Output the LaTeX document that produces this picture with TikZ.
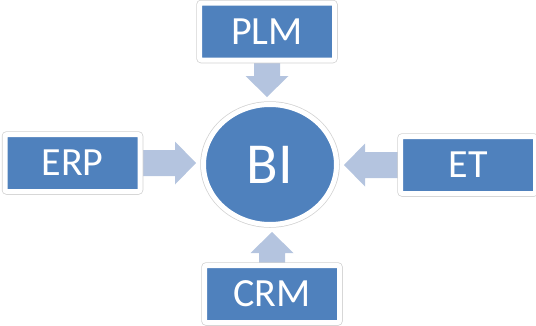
\documentclass[tikz,border=0pt]{standalone}
\usepackage{fontspec}
\setmainfont{Carlito}
\usetikzlibrary{calc,shapes.geometric}

\definecolor{smartblue}{HTML}{4F81BD}
\definecolor{flowblue}{HTML}{B4C4DF}
\definecolor{rimgray}{HTML}{D2D2D2}

\pgfdeclarelayer{background}
\pgfsetlayers{background,main}

% block arrow from #1 towards #2, stopping a little short of #2
\newcommand\blockarrow[2]{%
  \coordinate (tip) at ($(#2)!5pt!(#1)$);
  \coordinate (hb) at ($(tip)!21pt!(#1)$);
  \fill[flowblue]
    ($(#1)!13pt!90:(tip)$) -- ($(hb)!13pt!90:(tip)$) -- ($(hb)!21.5pt!90:(tip)$)
    -- (tip)
    -- ($(hb)!21.5pt!-90:(tip)$) -- ($(hb)!13pt!-90:(tip)$) -- ($(#1)!13pt!-90:(tip)$)
    -- cycle;}

\tikzset{
  rimmed/.style={fill=smartblue, draw=white, line width=5pt,
    preaction={draw=rimgray, line width=6.5pt},
    inner sep=0pt, text=white},
  sysbox/.style={rimmed, rectangle, rounded corners=2pt,
    minimum width=135pt, minimum height=57pt,
    font=\fontsize{40}{48}\selectfont},
  hub/.style={rimmed, ellipse, minimum width=133pt, minimum height=120pt,
    font=\fontsize{58}{68}\selectfont},
}

\begin{document}
\begin{tikzpicture}[x=1pt,y=-1pt]
\useasboundingbox (0,0) rectangle (536,325);

\node[hub] (bi) at (270,164.5) {BI};
\node[sysbox] (plm) at (267,31.5) {PLM};
\node[sysbox] (erp) at (72.5,163) {ERP};
\node[sysbox] (et) at (468,165) {ET};
\node[sysbox] (crm) at (272,294) {CRM};

\coordinate (biN) at (plm.south |- bi.north);
\coordinate (biW) at (erp.east -| bi.west);
\coordinate (biE) at (et.west -| bi.east);
\coordinate (biS) at (crm.north |- bi.south);

\begin{pgfonlayer}{background}
\blockarrow{plm.south}{biN}
\blockarrow{erp.east}{biW}
\blockarrow{et.west}{biE}
\blockarrow{crm.north}{biS}
\end{pgfonlayer}
\end{tikzpicture}
\end{document}
